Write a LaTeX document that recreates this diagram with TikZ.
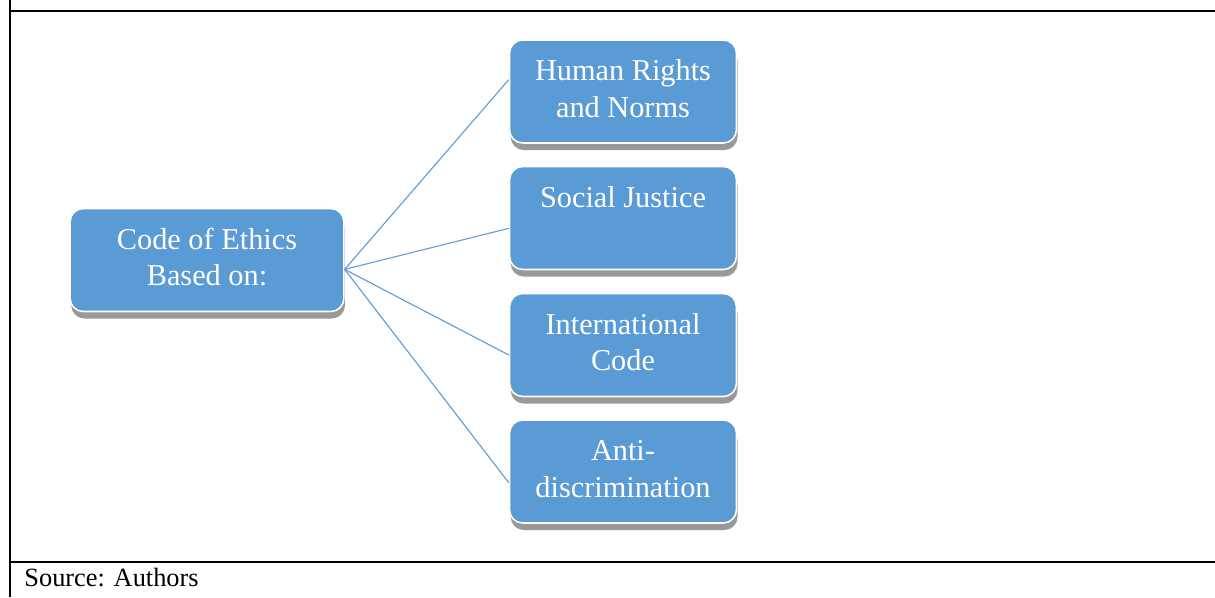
\documentclass[tikz,border=0pt]{standalone}
\usepackage{fontspec}
\setmainfont{Liberation Serif}
\usepackage{xcolor}
\usepackage{tikz}
\usetikzlibrary{shadows}
\definecolor{smartblue}{HTML}{5B9BD5}

\begin{document}
\begin{tikzpicture}[
  card/.style = {rectangle, rounded corners=6pt, fill=smartblue, draw=white,
                 line width=0.7pt, text=white, align=center,
                 font=\fontsize{13.8}{16.7}\selectfont, inner sep=0pt,
                 drop shadow={shadow xshift=0.5pt, shadow yshift=-3.2pt,
                              fill=black!40, opacity=1}},
  %% text box pinned to the last baseline, so one- and two-line cards differ
  oneln/.style = {text height=0.65cm, text depth=0.998cm},
  twoln/.style = {text height=1.237cm, text depth=0.411cm},
  hub/.style  = {card, twoln, minimum width=4.38cm},
  leaf/.style = {card, minimum width=3.63cm},
  link/.style = {smartblue, line width=0.5pt},
  rule/.style = {black, line width=1pt},
]

\useasboundingbox (0,0) rectangle (19.44,9.552);

%% ── Frame and source line ───────────────────────────────────────────────────
\draw[rule] (0.155,0) -- (0.155,9.552);
\draw[rule] (0.155,9.373) -- (19.44,9.373);
\draw[rule] (0.155,0.557) -- (19.44,0.557);
\node[anchor=base west, inner sep=0pt, font=\fontsize{12}{14}\selectfont]
  (src) at (0.384,0.176) {Source: Authors};

%% ── Hub ─────────────────────────────────────────────────────────────────────
\node[hub] (CE) at (3.312,5.392) {Code of Ethics\\Based on:};

%% ── Leaves  (x = 9.968) ─────────────────────────────────────────────────────
\node[leaf, twoln] (HR) at (9.968,8.088) {Human Rights\\and Norms};
\node[leaf, oneln] (SJ) at (9.968,6.064) {Social Justice};
\node[leaf, twoln] (IC) at (9.968,4.032) {International\\Code};
\node[leaf, twoln] (AD) at (9.968,2.008) {Anti-\\discrimination};

%% ── Links ───────────────────────────────────────────────────────────────────
\draw[link] ([yshift=-0.15cm]CE.east) -- ([yshift=0.19cm]HR.west);
\draw[link] ([yshift=-0.15cm]CE.east) -- ([yshift=-0.165cm]SJ.west);
\draw[link] ([yshift=-0.15cm]CE.east) -- ([yshift=-0.16cm]IC.west);
\draw[link] ([yshift=-0.15cm]CE.east) -- ([yshift=-0.18cm]AD.west);

\end{tikzpicture}
\end{document}
